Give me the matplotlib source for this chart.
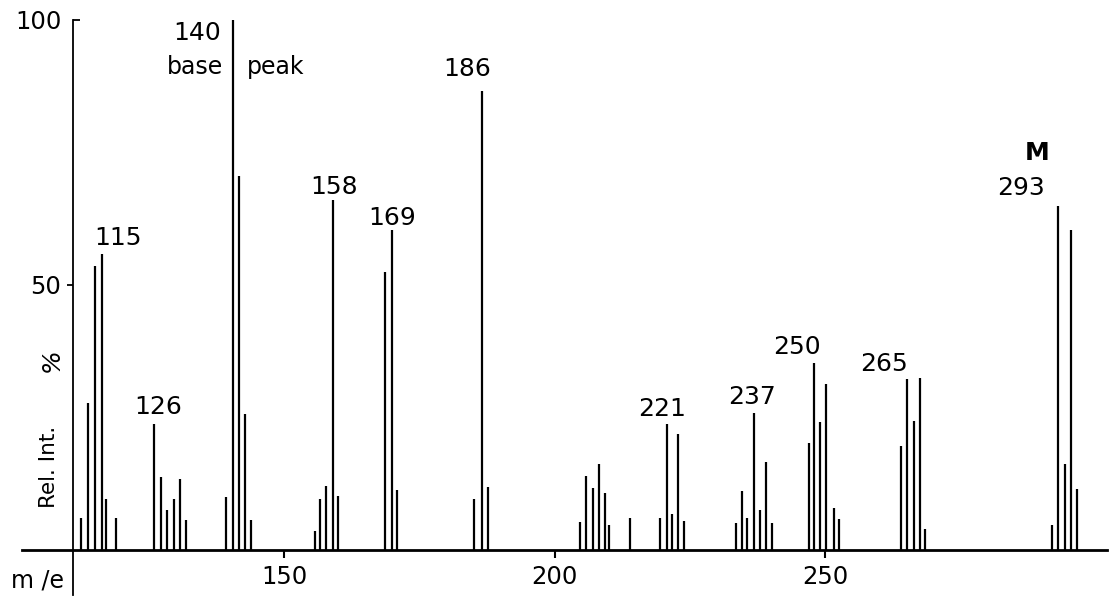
import numpy as np
import matplotlib.pyplot as plt

# m/e positions and relative intensities (%)
mz_115 = [112.5, 113.7, 115.1, 116.3, 117.0, 119.0]
int_115 = [6.0, 27.8, 53.6, 55.9, 9.7, 6.0]
mz_126 = [126.0, 127.3, 128.4, 129.6, 130.8, 131.8]
int_126 = [23.7, 13.8, 7.6, 9.6, 13.4, 5.6]
mz_140 = [139.2, 140.6, 141.7, 142.8, 143.8]
int_140 = [10.0, 100.0, 70.5, 25.7, 5.6]
mz_158 = [155.7, 156.7, 157.8, 159.0, 159.9]
int_158 = [3.6, 9.7, 12.0, 65.9, 10.2]
mz_169 = [168.7, 170.0, 170.9]
int_169 = [52.5, 60.3, 11.4]
mz_186 = [185.1, 186.6, 187.6]
int_186 = [9.7, 86.6, 11.8]
mz_207 = [204.7, 205.8, 207.0, 208.1, 209.2, 210.1, 213.9]
int_207 = [5.3, 13.9, 11.6, 16.2, 10.8, 4.7, 6.0]
mz_221 = [219.5, 220.7, 221.7, 222.8, 223.9]
int_221 = [6.0, 23.8, 6.8, 21.9, 5.5]
mz_237 = [233.5, 234.6, 235.6, 236.8, 237.9, 239.0, 240.2]
int_237 = [5.0, 11.1, 6.0, 25.8, 7.5, 16.5, 5.0]
mz_250 = [246.9, 247.9, 249.0, 250.2, 251.5, 252.5]
int_250 = [20.2, 35.2, 24.2, 31.3, 7.9, 5.9]
mz_265 = [264.0, 265.0, 266.4, 267.4, 268.4]
int_265 = [19.7, 32.2, 24.4, 32.5, 3.9]
mz_293 = [291.8, 292.9, 294.2, 295.3, 296.5]
int_293 = [4.7, 64.8, 16.3, 60.3, 11.5]

mz = mz_115 + mz_126 + mz_140 + mz_158 + mz_169 + mz_186 + mz_207 + mz_221 + mz_237 + mz_250 + mz_265 + mz_293
inten = int_115 + int_126 + int_140 + int_158 + int_169 + int_186 + int_207 + int_221 + int_237 + int_250 + int_265 + int_293

peak_labels = ['115', '126', '140', '158', '169', '186', '221', '237', '250', '265', '293']
label_x = [119.3, 126.7, 134.0, 159.2, 169.9, 183.8, 219.8, 236.5, 244.8, 260.9, 286.2]
label_y = [57.6, 25.6, 96.2, 67.1, 61.3, 89.3, 25.3, 27.5, 36.9, 33.7, 66.9]

fig = plt.figure(figsize=(11.09, 5.99), dpi=100)
ax = fig.add_axes([0, 0, 1, 1])

ax.vlines(mz, 0, inten, colors='black', lw=1.6)

ax.set_xlim(97.5, 302.4)
ax.set_ylim(-9.24, 103.7)

ax.spines['top'].set_visible(False)
ax.spines['right'].set_visible(False)
ax.spines['left'].set_position(('data', 111.0))
ax.spines['left'].set_bounds(-8.5, 100)
ax.spines['left'].set_linewidth(1.3)
ax.spines['bottom'].set_position(('data', 0))
ax.spines['bottom'].set_bounds(101.6, 302.0)
ax.spines['bottom'].set_linewidth(2.0)

ax.set_xticks([150, 200, 250])
ax.set_yticks([50])
ax.set_yticks([100], minor=True)
ax.set_yticklabels(['100'], minor=True)
ax.tick_params(axis='x', direction='out', length=6, width=1.5, labelsize=17.5, pad=5)
ax.tick_params(axis='y', which='major', direction='out', length=4, width=1.3, labelsize=17.5, pad=5)
ax.tick_params(axis='y', which='minor', direction='in', length=5, width=1.3, labelsize=17.5, pad=8)

for t, x, y in zip(peak_labels, label_x, label_y):
    ax.text(x, y, t, fontsize=18, ha='center', va='baseline')

ax.text(133.5, 89.7, 'base', fontsize=17, ha='center', va='baseline')
ax.text(148.5, 89.7, 'peak', fontsize=17, ha='center', va='baseline')
ax.text(289.1, 73.5, 'M', fontsize=18, fontweight='bold', ha='center', va='baseline')

ax.text(104.4, -7.0, 'm /e', fontsize=17, ha='center', va='baseline')
ax.text(106.6, 15.6, 'Rel. Int.', fontsize=15.5, rotation=90, ha='center', va='center')
ax.text(107.1, 35.8, '%', fontsize=18, style='italic', rotation=90, ha='center', va='center')

fig.savefig('out.png', dpi=100)
